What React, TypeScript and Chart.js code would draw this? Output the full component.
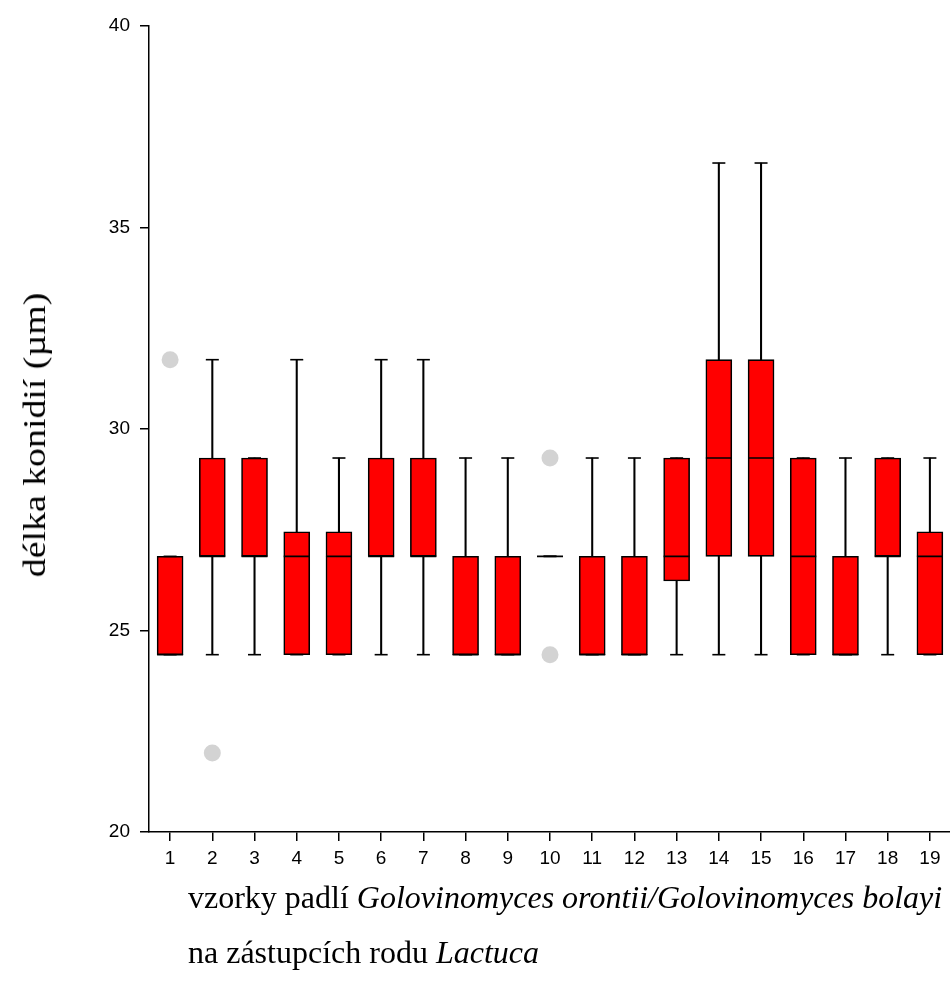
import React, { useEffect, useLayoutEffect, useRef } from "react";
import { Chart, registerables } from "chart.js";

Chart.register(...registerables);

const CATEGORIES = ["1", "2", "3", "4", "5", "6", "7", "8", "9", "10", "11", "12", "13", "14", "15", "16", "17", "18", "19"];
const Q1 = [24.4, 26.84, 26.84, 24.4, 24.4, 26.84, 26.84, 24.4, 24.4, 26.84, 24.4, 24.4, 26.23, 26.84, 26.84, 24.4, 24.4, 26.84, 24.4];
const Q3 = [26.84, 29.28, 29.28, 27.45, 27.45, 29.28, 29.28, 26.84, 26.84, 26.84, 26.84, 26.84, 29.28, 31.72, 31.72, 29.28, 26.84, 29.28, 27.45];
const MEDIAN = [24.4, 26.84, 26.84, 26.84, 26.84, 26.84, 26.84, 24.4, 24.4, 26.84, 24.4, 24.4, 26.84, 29.28, 29.28, 26.84, 24.4, 26.84, 26.84];
const WHISKER_LOW = [24.4, 24.4, 24.4, 24.4, 24.4, 24.4, 24.4, 24.4, 24.4, 26.84, 24.4, 24.4, 24.4, 24.4, 24.4, 24.4, 24.4, 24.4, 24.4];
const WHISKER_HIGH = [26.84, 31.72, 29.28, 31.72, 29.28, 31.72, 31.72, 29.28, 29.28, 26.84, 29.28, 29.28, 29.28, 36.6, 36.6, 29.28, 29.28, 29.28, 29.28];
const OUTLIER_CATEGORY = ["1", "2", "10", "10"];
const OUTLIER_VALUE = [31.72, 21.96, 29.28, 24.4];
const Y_TICKS = [20, 25, 30, 35, 40];

const SERIF = "'Liberation Serif', 'Times New Roman', serif";
const SANS = "'Liberation Sans', Arial, sans-serif";

export default function App() {
  const canvasRef = useRef<HTMLCanvasElement | null>(null);
  const line1Ref = useRef<HTMLDivElement | null>(null);
  const line2Ref = useRef<HTMLDivElement | null>(null);
  const yTitleRef = useRef<HTMLSpanElement | null>(null);

  useLayoutEffect(() => {
    const l1 = line1Ref.current;
    const l2 = line2Ref.current;
    if (l1 && l2) {
      const w = l1.scrollWidth;
      if (w > 0) {
        const s = 754 / w;
        l1.style.transform = `scaleX(${s})`;
        l2.style.transform = `scaleX(${s})`;
      }
    }
    const yt = yTitleRef.current;
    if (yt) {
      const w = yt.offsetWidth;
      if (w > 0) {
        yt.style.transform = `translate(-50%, -50%) rotate(-90deg) scaleX(${285 / w})`;
      }
    }
  }, []);

  useEffect(() => {
    const canvas = canvasRef.current;
    if (!canvas) return;
    const chart = new Chart(canvas, {
      type: "bar",
      data: {
        labels: CATEGORIES,
        datasets: [
          {
            type: "line",
            label: "outliers",
            data: OUTLIER_CATEGORY.map((c, i) => ({ x: c, y: OUTLIER_VALUE[i] })) as any,
            showLine: false,
            pointStyle: "circle",
            pointRadius: 8.5,
            pointBackgroundColor: "#d3d3d3",
            pointBorderWidth: 0,
            pointBorderColor: "#d3d3d3",
            order: 0,
          } as any,
          {
            type: "line",
            label: "median",
            data: MEDIAN,
            showLine: false,
            pointStyle: "line",
            pointRadius: 13,
            pointBorderWidth: 1.6,
            pointBorderColor: "#000",
            order: 1,
          } as any,
          {
            type: "line",
            label: "capLow",
            data: WHISKER_LOW,
            showLine: false,
            pointStyle: "line",
            pointRadius: 6.5,
            pointBorderWidth: 1.6,
            pointBorderColor: "#000",
            order: 1,
          } as any,
          {
            type: "line",
            label: "capHigh",
            data: WHISKER_HIGH,
            showLine: false,
            pointStyle: "line",
            pointRadius: 6.5,
            pointBorderWidth: 1.6,
            pointBorderColor: "#000",
            order: 1,
          } as any,
          {
            type: "bar",
            label: "box",
            data: Q1.map((q, i) => [q, Q3[i]]) as any,
            backgroundColor: "#ff0000",
            borderColor: "#000",
            borderWidth: 1.6,
            borderSkipped: false,
            barThickness: 26,
            grouped: false,
            order: 2,
          } as any,
          {
            type: "bar",
            label: "whisker",
            data: WHISKER_LOW.map((l, i) => [l, WHISKER_HIGH[i]]) as any,
            backgroundColor: "#000",
            borderWidth: 0,
            barThickness: 1.4,
            grouped: false,
            order: 3,
          } as any,
        ],
      },
      options: {
        responsive: false,
        animation: false,
        devicePixelRatio: 1,
        layout: { autoPadding: false, padding: { top: 26, right: 0, left: 0, bottom: 0 } },
        plugins: { legend: { display: false }, tooltip: { enabled: false }, title: { display: false } },
        scales: {
          x: {
            type: "category",
            offset: true,
            grid: { offset: false, drawOnChartArea: false, drawTicks: true, tickLength: 9, color: "#000", lineWidth: 1.5 },
            border: { display: true, color: "#000", width: 1.5 },
            ticks: { color: "#000", font: { family: SANS, size: 19 }, padding: 6, maxRotation: 0, autoSkip: false },
            afterFit: (scale: any) => {
              scale.height = 160;
            },
          },
          y: {
            type: "linear",
            min: 20,
            max: 40,
            afterBuildTicks: (scale: any) => {
              scale.ticks = Y_TICKS.map((v) => ({ value: v }));
            },
            grid: { drawOnChartArea: false, drawTicks: true, tickLength: 9, color: "#000", lineWidth: 1.5 },
            border: { display: true, color: "#000", width: 1.5 },
            ticks: { color: "#000", font: { family: SANS, size: 19 }, padding: 10 },
            afterFit: (scale: any) => {
              scale.width = 149;
            },
          },
        },
      },
    });
    return () => chart.destroy();
  }, []);

  return (
    <div style={{ position: "absolute", left: 0, top: 0, width: 950, height: 992, overflow: "hidden", background: "#fff" }}>
      <canvas ref={canvasRef} width={951} height={992} style={{ display: "block", width: 951, height: 992 }} />
      <span
        ref={yTitleRef}
        style={{
          position: "absolute",
          left: 34,
          top: 435,
          transform: "translate(-50%, -50%) rotate(-90deg)",
          fontFamily: SERIF,
          fontSize: 32,
          lineHeight: "36px",
          whiteSpace: "nowrap",
          color: "#000",
          display: "inline-block",
        }}
      >
        délka konidií (µm)
      </span>
      <div
        ref={line1Ref}
        style={{
          position: "absolute",
          left: 188,
          top: 879,
          fontFamily: SERIF,
          fontSize: 32,
          lineHeight: "36px",
          whiteSpace: "nowrap",
          color: "#000",
          transformOrigin: "left top",
        }}
      >
        vzorky padlí <i>Golovinomyces orontii/Golovinomyces bolayi</i>
      </div>
      <div
        ref={line2Ref}
        style={{
          position: "absolute",
          left: 188,
          top: 934,
          fontFamily: SERIF,
          fontSize: 32,
          lineHeight: "36px",
          whiteSpace: "nowrap",
          color: "#000",
          transformOrigin: "left top",
        }}
      >
        na zástupcích rodu <i>Lactuca</i>
      </div>
    </div>
  );
}
